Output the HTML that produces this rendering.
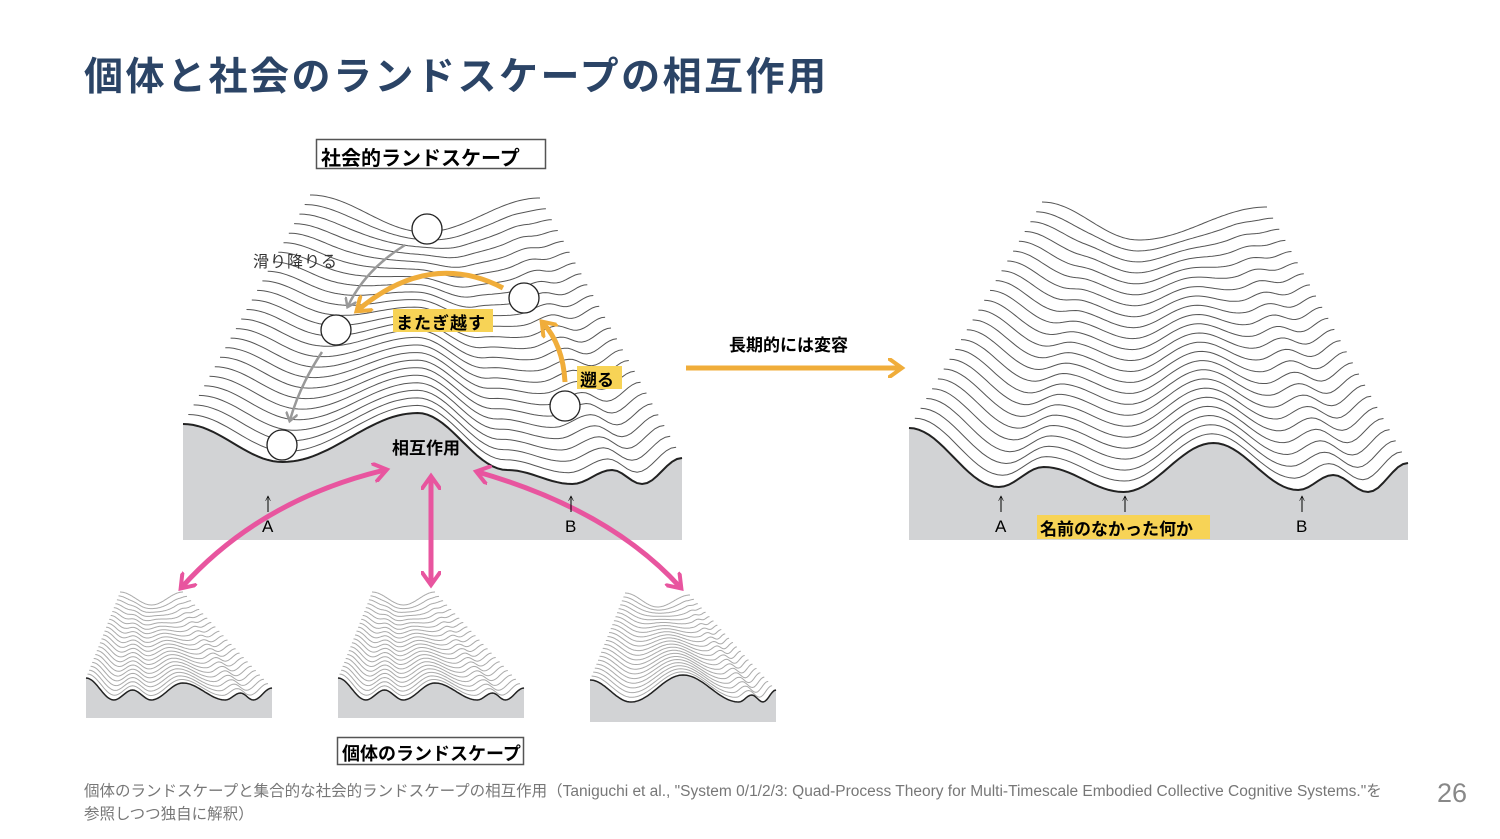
<!DOCTYPE html>
<html><head><meta charset="utf-8"><style>
body{margin:0;width:1500px;height:839px;background:#fff;overflow:hidden;font-family:"Liberation Sans","Noto Sans CJK JP",sans-serif;position:relative}
.t{position:absolute;white-space:nowrap}
</style></head><body>
<div class="t" style="left:84px;top:46px;font-size:39px;font-weight:bold;color:#2b4466;letter-spacing:2.5px">個体と社会のランドスケープの相互作用</div>
<svg id="s" width="1500" height="839" style="position:absolute;left:0;top:0" xmlns="http://www.w3.org/2000/svg">
<defs>
<marker id="mg" viewBox="0 0 10 10" refX="6" refY="5" markerWidth="5" markerHeight="5" orient="auto-start-reverse"><path d="M0,0 L7,5 L0,10" fill="none" stroke="#999" stroke-width="2"/></marker>
<marker id="mo" viewBox="0 0 10 10" refX="6" refY="5" markerWidth="4" markerHeight="4" orient="auto-start-reverse"><path d="M0,0 L7,5 L0,10" fill="none" stroke="#f0ad3a" stroke-width="2"/></marker>
<marker id="mp" viewBox="0 0 10 10" refX="6" refY="5" markerWidth="4" markerHeight="4" orient="auto-start-reverse"><path d="M0,0 L7,5 L0,10" fill="none" stroke="#e8559f" stroke-width="2"/></marker>
<marker id="mk" viewBox="0 0 10 10" refX="8" refY="5" markerWidth="6" markerHeight="6" orient="auto"><path d="M0,1 L8,5 L0,9" fill="none" stroke="#000" stroke-width="1"/></marker>
</defs>
<g id="land"></g>
<g fill="#fff" stroke="#222" stroke-width="1.3">
<circle cx="427" cy="229" r="15"/><circle cx="524" cy="298" r="15"/><circle cx="336" cy="330" r="15"/><circle cx="565" cy="406" r="15"/><circle cx="282" cy="445" r="15"/>
</g>
<g fill="none" stroke="#999" stroke-width="2.5">
<path d="M405,245 Q365,270 348,306" marker-end="url(#mg)"/>
<path d="M322,352 Q300,385 290,420" marker-end="url(#mg)"/>
</g>
<g fill="none" stroke="#f0ad3a" stroke-width="5">
<path d="M503,288 Q430,250 358,310" marker-end="url(#mo)"/>
<path d="M565,382 Q563,345 543,323" marker-end="url(#mo)"/>
<path d="M686,368 L900,368" marker-end="url(#mo)"/>
</g>
<g fill="none" stroke="#e8559f" stroke-width="5">
<path d="M182,587 Q260,500 385,470" marker-start="url(#mp)" marker-end="url(#mp)"/>
<path d="M431,478 L431,583" marker-start="url(#mp)" marker-end="url(#mp)"/>
<path d="M478,472 Q610,510 680,587" marker-start="url(#mp)" marker-end="url(#mp)"/>
</g>
<g stroke="#000" stroke-width="1">
<path d="M268,512 L268,496" marker-end="url(#mk)"/><path d="M571,512 L571,496" marker-end="url(#mk)"/>
<path d="M1001,512 L1001,496" marker-end="url(#mk)"/><path d="M1125,512 L1125,496" marker-end="url(#mk)"/><path d="M1302,512 L1302,496" marker-end="url(#mk)"/>
</g>
<rect x="393" y="309" width="100" height="23" fill="#f7d356"/>
<rect x="577" y="366" width="45" height="23" fill="#f7d356"/>
<rect x="1037" y="515" width="173" height="24" fill="#f7d356"/>
<rect x="316.5" y="139.5" width="229" height="29" fill="#fff" stroke="#555" stroke-width="1.5"/>
<rect x="337.5" y="737.5" width="186" height="27" fill="#fff" stroke="#555" stroke-width="1.5"/>
</svg>
<div class="t" style="left:321px;top:142px;font-size:20px;font-weight:bold">社会的ランドスケープ</div>
<div class="t" style="left:342px;top:740px;font-size:18px;font-weight:bold">個体のランドスケープ</div>
<div class="t" style="left:253px;top:248px;font-size:16px;color:#333;letter-spacing:1px">滑り降りる</div>
<div class="t" style="left:396px;top:309px;font-size:17px;font-weight:bold;letter-spacing:1px">またぎ越す</div>
<div class="t" style="left:580px;top:366px;font-size:17px;font-weight:bold">遡る</div>
<div class="t" style="left:392px;top:434px;font-size:17px;font-weight:bold">相互作用</div>
<div class="t" style="left:729px;top:331px;font-size:17px;font-weight:bold">長期的には変容</div>
<div class="t" style="left:262px;top:517px;font-size:17px">A</div>
<div class="t" style="left:565px;top:517px;font-size:17px">B</div>
<div class="t" style="left:995px;top:517px;font-size:17px">A</div>
<div class="t" style="left:1296px;top:517px;font-size:17px">B</div>
<div class="t" style="left:1040px;top:515px;font-size:17px;font-weight:bold">名前のなかった何か</div>
<div class="t" style="left:84px;top:780px;font-size:15.5px;color:#777;line-height:23px">個体のランドスケープと集合的な社会的ランドスケープの相互作用（Taniguchi et al., "System 0/1/2/3: Quad-Process Theory for Multi-Timescale Embodied Collective Cognitive Systems."を<br>参照しつつ独自に解釈）</div>
<div class="t" style="left:1437px;top:778px;font-size:27px;color:#888">26</div>
<script>
(function(){
var g=document.getElementById('land');var NS='http://www.w3.org/2000/svg';
function ip(pts,u){for(var i=0;i<pts.length-1;i++){var a=pts[i],b=pts[i+1];if(u<=b[0]){var t=(u-a[0])/(b[0]-a[0]);t=(1-Math.cos(Math.PI*t))/2;return a[1]+(b[1]-a[1])*t;}}return pts[pts.length-1][1];}
function L(x0,x1,bx0,bx1,F,B,N,bot,col,sw,fw){
 var d='M'+x0+','+ip(F,0);for(var k=0;k<=100;k++){var u=k/100;d+=' L'+(x0+(x1-x0)*u).toFixed(1)+','+ip(F,u).toFixed(1);}
 var r=document.createElementNS(NS,'path');r.setAttribute('d',d+' L'+x1+','+bot+' L'+x0+','+bot+'Z');r.setAttribute('fill','#d2d3d5');g.appendChild(r);
 for(var n=N;n>=0;n--){var t=n/N;var a=x0+(bx0-x0)*t,b=x1+(bx1-x1)*t;var p='';
  for(var k=0;k<=100;k++){var u=k/100;var y=(1-t)*ip(F,u)+t*ip(B,u);p+=(k?' L':'M')+(a+(b-a)*u).toFixed(1)+','+y.toFixed(1);}
  var e=document.createElementNS(NS,'path');e.setAttribute('d',p);e.setAttribute('fill','none');e.setAttribute('stroke',n==0?'#222':col);e.setAttribute('stroke-width',n==0?fw:sw);g.appendChild(e);}
}
L(183,682,310,540,[[0,424],[0.2,462],[0.47,413],[0.65,470],[0.78,484],[0.86,470],[0.92,484],[1,458]],[[0,195],[0.5,232],[1,198]],24,540,'#555',1,2);
L(909,1408,1042,1267,[[0,428],[0.18,487],[0.27,467],[0.43,492],[0.61,443],[0.78,490],[0.85,475],[0.92,492],[1,463]],[[0,202],[0.43,240],[1,207]],23,540,'#555',1,2);
var s1=[[0,678],[0.15,700],[0.25,690],[0.35,700],[0.52,683],[0.75,700],[0.83,693],[0.9,700],[1,688]];
L(86,272,120,183,s1,[[0,592],[0.5,605],[1,592]],22,718,'#aaa',1,1.5);
L(338,524,372,435,s1,[[0,592],[0.5,605],[1,592]],22,718,'#aaa',1,1.5);
L(590,776,625,690,[[0,680],[0.22,702],[0.5,675],[0.8,702],[0.87,695],[0.93,702],[1,690]],[[0,593],[0.5,607],[1,595]],22,722,'#aaa',1,1.5);
})();
</script>
</body></html>
